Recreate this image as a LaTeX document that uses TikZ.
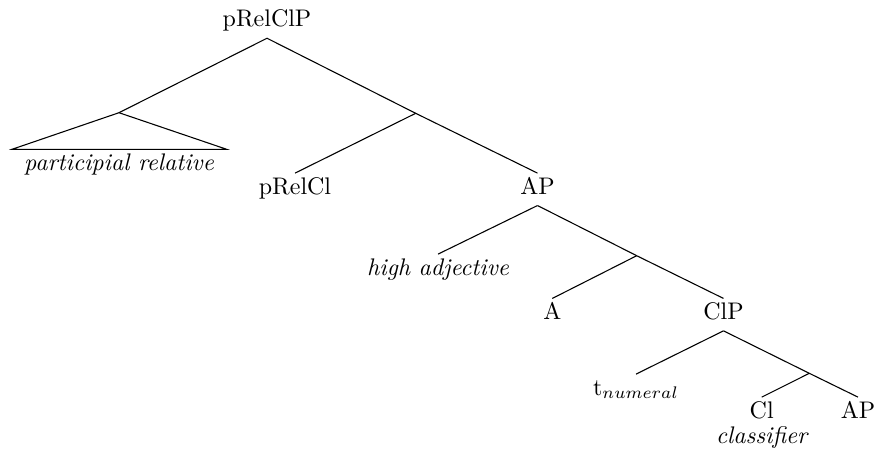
\documentclass[tikz,border=0pt]{standalone}
\begin{document}
\begin{tikzpicture}[x=0.4167pt,y=-0.4167pt,
  lab/.style={inner sep=0pt,outer sep=1.7pt,text height=7pt,text depth=3.1pt,anchor=base},
  gloss/.style={lab,font=\itshape},
  br/.style={line width=0.45pt}]
\useasboundingbox (0,0) rectangle (877,452);
% nodes
\node[lab] (top) at (267,26.7) {pRelClP};
\coordinate (b1) at (119,112.7);
\coordinate (tl) at (12,149.3);
\coordinate (tr) at (226.7,149.3);
\node[gloss] (partrel) at (119,170) {participial relative};
\coordinate (b2) at (415.7,113.3);
\node[lab] (prelcl) at (295,194) {pRelCl};
\node[lab] (ap1) at (537.5,194) {AP};
\node[gloss] (highadj) at (438,275) {high adjective};
\coordinate (b3) at (636.7,255.7);
\node[lab] (a) at (552.3,319.3) {A};
\node[lab] (clp) at (723.5,319.3) {ClP};
\node[lab] (tnum) at (636,395) {t$_{numeral}$};
\coordinate (b4) at (809.3,373.3);
\node[lab] (cl) at (761.7,418) {Cl};
\node[lab] (ap2) at (858,418) {AP};
\node[gloss] (clgloss) at (761.7,443) {classifier};
% branches
\draw[br] (top.south) -- (b1);
\draw[br] (b1) -- (tl) -- (tr) -- cycle;
\draw[br] (top.south) -- (b2);
\draw[br] (b2) -- (prelcl.north);
\draw[br] (b2) -- (ap1.north);
\draw[br] (ap1.south) -- (highadj.north);
\draw[br] (ap1.south) -- (b3);
\draw[br] (b3) -- (a.north);
\draw[br] (b3) -- (clp.north);
\draw[br] (clp.south) -- (tnum.north);
\draw[br] (clp.south) -- (b4);
\draw[br] (b4) -- (cl.north);
\draw[br] (b4) -- (ap2.north);
\end{tikzpicture}
\end{document}
